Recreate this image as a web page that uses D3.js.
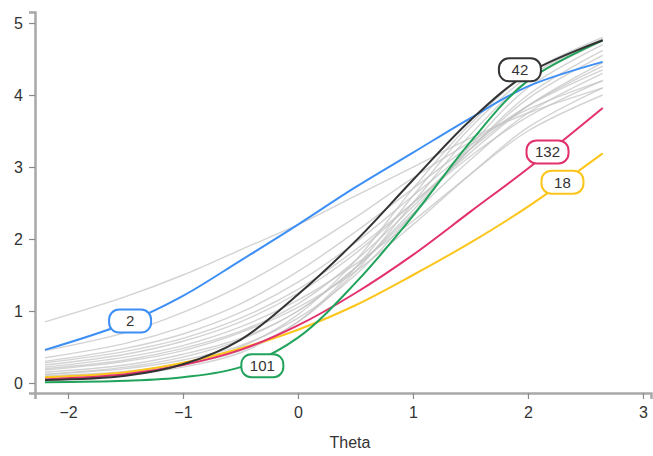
<!DOCTYPE html>
<html>
<head>
<meta charset="utf-8">
<script src="https://cdnjs.cloudflare.com/ajax/libs/d3/7.8.5/d3.min.js"></script>
<style>
body { margin: 0; background: #fff; }
text { font-family: "Liberation Sans", Arial, sans-serif; }
</style>
</head>
<body>
<svg id="chart"></svg>
<script>
var thetas = [-2.2, -1.5, -1, -0.5, 0, 0.5, 1, 1.5, 2, 2.65];

// background items (gray)
var grayItems = [
  [0.85, 1.2, 1.5, 1.85, 2.2, 2.6, 3.0, 3.4, 3.75, 4.1],
  [0.45, 0.7, 0.98, 1.35, 1.8, 2.3, 2.85, 3.35, 3.8, 4.2],
  [0.35, 0.55, 0.78, 1.1, 1.55, 2.1, 2.7, 3.3, 3.85, 4.35],
  [0.3, 0.48, 0.68, 0.98, 1.4, 1.95, 2.6, 3.25, 3.85, 4.4],
  [0.25, 0.4, 0.58, 0.85, 1.25, 1.8, 2.5, 3.2, 3.85, 4.45],
  [0.2, 0.32, 0.48, 0.72, 1.1, 1.7, 2.45, 3.25, 3.95, 4.55],
  [0.15, 0.25, 0.4, 0.62, 1.0, 1.6, 2.4, 3.25, 4.0, 4.62],
  [0.12, 0.2, 0.32, 0.52, 0.9, 1.5, 2.35, 3.3, 4.1, 4.7],
  [0.1, 0.16, 0.28, 0.5, 0.95, 1.7, 2.7, 3.6, 4.3, 4.8],
  [0.08, 0.14, 0.25, 0.45, 0.85, 1.55, 2.5, 3.45, 4.2, 4.75],
  [0.18, 0.3, 0.45, 0.7, 1.05, 1.55, 2.2, 2.9, 3.55, 4.1],
  [0.22, 0.36, 0.52, 0.78, 1.15, 1.65, 2.25, 2.9, 3.5, 4.0],
  [0.12, 0.22, 0.36, 0.6, 1.0, 1.6, 2.35, 3.1, 3.75, 4.3],
  [0.28, 0.44, 0.62, 0.9, 1.3, 1.85, 2.5, 3.15, 3.7, 4.2],
  [0.06, 0.12, 0.22, 0.42, 0.85, 1.6, 2.6, 3.55, 4.25, 4.78]
];

// highlighted items
var item18  = [0.08, 0.15, 0.28, 0.48, 0.74, 1.08, 1.5, 1.95, 2.45, 3.19];
var item132 = [0.05, 0.12, 0.25, 0.46, 0.8, 1.25, 1.78, 2.38, 2.98, 3.82];
var item2   = [0.46, 0.83, 1.21, 1.7, 2.2, 2.72, 3.2, 3.68, 4.12, 4.46];
var item101 = [0.01, 0.03, 0.08, 0.22, 0.63, 1.39, 2.32, 3.35, 4.2, 4.76];
var item42  = [0.04, 0.1, 0.26, 0.6, 1.23, 1.97, 2.82, 3.65, 4.3, 4.76];

var itemNames  = ["18", "132", "2", "101", "42"];
var itemColors = ["#fcc51c", "#e2316b", "#3d8ff5", "#21a35b", "#333333"];
var itemValues = [item18, item132, item2, item101, item42];

// label spots (theta, expected score)
var labelNames  = ["2", "101", "42", "132", "18"];
var labelTheta  = [-1.46, -0.31, 1.93, 2.17, 2.3];
var labelScore  = [0.86, 0.24, 4.35, 3.21, 2.79];

var xTicks = [-2, -1, 0, 1, 2, 3];
var yTicks = [0, 1, 2, 3, 4, 5];

var width = 653, height = 456;

var svg = d3.select("#chart")
    .attr("width", width)
    .attr("height", height);

var x = d3.scaleLinear().domain([-2.287, 3.07]).range([35, 651]);
var y = d3.scaleLinear().domain([-0.139, 5.153]).range([393, 12]);

var line = d3.line()
    .x(function(d){ return x(d[0]); })
    .y(function(d){ return y(d[1]); })
    .curve(d3.curveCatmullRom.alpha(0.5));

function pairs(vals){
    return vals.map(function(v, i){ return [thetas[i], v]; });
}

// gray curves
svg.append("g")
  .selectAll("path")
  .data(grayItems)
  .enter().append("path")
    .attr("d", function(d){ return line(pairs(d)); })
    .attr("fill", "none")
    .attr("stroke", "#c4c4c4")
    .attr("stroke-opacity", 0.75)
    .attr("stroke-width", 1.4);

// coloured curves
svg.append("g")
  .selectAll("path")
  .data(itemValues)
  .enter().append("path")
    .attr("d", function(d){ return line(pairs(d)); })
    .attr("fill", "none")
    .attr("stroke", function(d, i){ return itemColors[i]; })
    .attr("stroke-width", 2);

// axes
var yAxis = svg.append("g")
    .attr("transform", "translate(35,0)")
    .call(d3.axisLeft(y).tickValues(yTicks).tickSize(6).tickPadding(6).tickFormat(d3.format("d")));

var xAxis = svg.append("g")
    .attr("transform", "translate(0,393)")
    .call(d3.axisBottom(x).tickValues(xTicks).tickSize(6).tickPadding(8).tickFormat(function(d){ return d < 0 ? "\u2212" + Math.abs(d) : d; }));

[yAxis, xAxis].forEach(function(ax){
    ax.select(".domain").attr("stroke", "#a8a8a8").attr("stroke-width", 2.5);
    ax.selectAll(".tick line").attr("stroke", "#8a8a8a").attr("stroke-width", 1.2);
    ax.selectAll(".tick text")
      .attr("fill", "#333")
      .style("font-size", "16px")
      .style("font-family", "\"Liberation Sans\", Arial, sans-serif");
});

svg.append("text")
    .attr("x", 350)
    .attr("y", 448)
    .attr("text-anchor", "middle")
    .attr("fill", "#333")
    .style("font-size", "16px")
    .text("Theta");

// labels
var labels = svg.append("g")
  .selectAll("g")
  .data(labelNames)
  .enter().append("g")
    .attr("transform", function(d, i){ return "translate(" + x(labelTheta[i]) + "," + y(labelScore[i]) + ")"; });

labels.append("rect")
    .attr("x", -21)
    .attr("y", -11.5)
    .attr("width", 42)
    .attr("height", 23)
    .attr("rx", 10)
    .attr("fill", "#fff")
    .attr("stroke", function(d){ return itemColors[itemNames.indexOf(d)]; })
    .attr("stroke-width", 2);

labels.append("text")
    .attr("text-anchor", "middle")
    .attr("dy", "0.36em")
    .attr("fill", "#333")
    .style("font-size", "15px")
    .text(function(d){ return d; });
</script>
</body>
</html>
